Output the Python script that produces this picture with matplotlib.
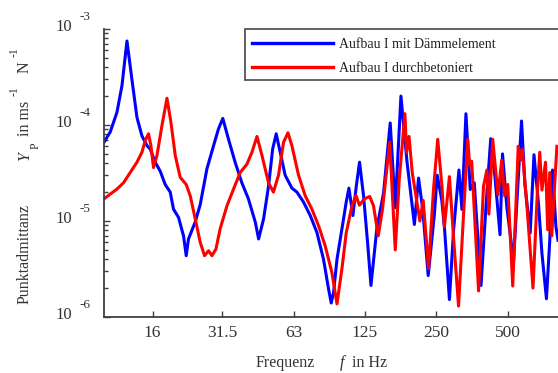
import matplotlib
matplotlib.use("Agg")
import matplotlib.pyplot as plt
import matplotlib.transforms as mtransforms
from matplotlib.patches import Rectangle
from matplotlib.ticker import FixedLocator, NullFormatter, NullLocator

plt.rcParams["font.family"] = ["Liberation Serif", "DejaVu Serif"]

# x ticks (terz/oktav band centres)
freq_ticks = [16, 31.5, 63, 125, 250, 500]
freq_labels = ["16", "31.5", "63", "125", "250", "500"]
decades = [-6, -5, -4, -3]

# Aufbau I mit Dämmelement
blue_f = [10.0, 10.63, 11.34, 11.9, 12.49, 13.1, 13.76, 14.44, 15.16, 15.65,
          16.42, 17.24, 18.09, 18.99, 19.6, 20.58, 21.6, 22.17, 22.67, 24.2,
          25.39, 27.1, 28.9, 30.3, 31.6, 33.4, 35.6, 38.0, 40.5, 43.3,
          44.7, 46.9, 49.2, 51.2, 53.0, 55.1, 57.8, 61.7, 64.8, 69.1,
          73.7, 78.6, 83.8, 88.0, 90.3, 92.4, 95.5, 100.2, 104.4, 107.2,
          111.4, 115.1, 118.8, 123.5, 128.4, 132.7, 140.6, 149.9, 159.9, 167.9,
          177.4, 188.0, 202.1, 210.4, 219.1, 231.0, 244.9, 252.1, 263.4, 270.6,
          283.7, 295.2, 311.1, 320.2, 332.9, 347.1, 360.8, 385.3, 406.4, 423.3,
          440.9, 463.1, 474.4, 495.2, 528, 545.6, 570.4, 589.4, 620.3, 643.5,
          672.3, 695, 726, 749.6, 770, 795.8, 812]
blue_y = [6.6e-5, 8.5e-5, 1.36e-4, 2.57e-4, 7.5e-4, 3.0e-4, 1.2e-4, 7.7e-5, 6.1e-5, 5.6e-5,
          4.1e-5, 3.3e-5, 2.4e-5, 2.0e-5, 1.33e-5, 1.09e-5, 7.0e-6, 4.35e-6, 6.5e-6, 9.8e-6,
          1.48e-5, 3.5e-5, 6.1e-5, 9.1e-5, 1.17e-4, 7.1e-5, 4.1e-5, 2.5e-5, 1.7e-5, 9.7e-6,
          6.5e-6, 1.05e-5, 2.3e-5, 5.6e-5, 8.1e-5, 5.2e-5, 3.0e-5, 2.2e-5, 2.0e-5, 1.57e-5,
          1.14e-5, 7.6e-6, 4.0e-6, 1.96e-6, 1.40e-6, 1.81e-6, 4.0e-6, 8.3e-6, 1.57e-5, 2.2e-5,
          1.14e-5, 2.3e-5, 4.1e-5, 1.83e-5, 6.0e-6, 2.13e-6, 8.5e-6, 1.96e-5, 1.05e-4, 1.38e-5,
          2.0e-4, 4.2e-5, 9.2e-6, 2.8e-5, 1.32e-5, 2.7e-6, 1.13e-5, 3.0e-5, 1.66e-5, 8.3e-6,
          1.52e-6, 7.9e-6, 3.4e-5, 1.32e-5, 1.31e-4, 2.13e-5, 2.5e-5, 2.13e-6, 1.74e-5, 7.2e-5,
          2.9e-5, 7.2e-6, 5.0e-5, 1.37e-5, 3.8e-6, 1.6e-5, 1.1e-4, 2.4e-5, 7.5e-6, 4.9e-5,
          1.5e-5, 4.6e-6, 1.55e-6, 6.2e-6, 3.4e-5, 8.7e-6, 6.3e-6]

# Aufbau I durchbetoniert
red_f = [10.0, 10.63, 11.34, 12.08, 12.89, 13.76, 14.44, 14.91, 15.39, 15.75,
         16.15, 16.7, 17.52, 18.4, 19.12, 19.94, 20.92, 22.17, 23.05, 24.2,
         25.39, 26.48, 27.52, 28.44, 29.57, 30.8, 32.9, 35.06, 37.4, 39.9,
         41.9, 44.0, 46.2, 49.2, 51.6, 54.2, 56.9, 59.4, 61.7, 65.8,
         70.2, 74.9, 79.9, 85.2, 90.9, 95.5, 100.2, 104.4, 110.4, 114.8,
         118.7, 124.3, 131.1, 136.0, 142.4, 148.4, 159.1, 167.9, 174.5, 184.4,
         187.3, 191.9, 197.9, 207.1, 213.1, 220.1, 231.7, 243.2, 253.3, 263.9,
         270.3, 283.7, 295.8, 309.9, 324.3, 338.7, 345.3, 352, 359, 376.2,
         394.7, 407.9, 415.8, 431.5, 454, 470.8, 484.7, 499, 523.8, 552.5,
         563.3, 574.3, 602.8, 637.4, 664, 680.3, 695, 719.6, 735, 749.6,
         764.3, 779, 803.5]
red_y = [1.7e-5, 1.91e-5, 2.15e-5, 2.5e-5, 3.2e-5, 4.1e-5, 5.2e-5, 6.9e-5, 8.1e-5, 6.1e-5,
         3.6e-5, 4.8e-5, 9.8e-5, 1.9e-4, 1.07e-4, 4.8e-5, 2.85e-5, 2.4e-5, 1.83e-5, 1.05e-5,
         6.0e-6, 4.35e-6, 4.9e-6, 4.35e-6, 5.1e-6, 8.3e-6, 1.44e-5, 2.15e-5, 3.2e-5, 3.9e-5,
         5.2e-5, 7.6e-5, 4.8e-5, 2.5e-5, 2.0e-5, 3.0e-5, 6.6e-5, 8.3e-5, 6.1e-5, 3.0e-5,
         1.83e-5, 1.33e-5, 8.9e-6, 5.5e-6, 2.9e-6, 1.37e-6, 3.2e-6, 7.5e-6, 1.44e-5, 1.84e-5,
         1.46e-5, 1.7e-5, 1.8e-5, 1.44e-5, 7.0e-6, 1.33e-5, 6.6e-5, 5.0e-6, 2.7e-5, 1.31e-4,
         5.2e-5, 7.6e-5, 3.2e-5, 1.57e-5, 1.0e-5, 1.64e-5, 3.2e-6, 2.15e-5, 7.1e-5, 2.3e-5,
         8.7e-6, 2.9e-5, 6.3e-6, 1.3e-6, 1.02e-5, 7.1e-5, 3.8e-5, 4.2e-5, 1.66e-5, 1.87e-6,
         2.3e-5, 3.4e-5, 1.18e-5, 7.1e-5, 1.87e-5, 4.3e-5, 1.82e-5, 2.4e-5, 2.1e-6, 6.0e-5,
         4.3e-5, 5.6e-5, 1.3e-5, 2.0e-6, 1.87e-5, 5.2e-5, 2.1e-5, 4.1e-5, 8.1e-6, 3.2e-5,
         7.0e-6, 1.66e-5, 6.0e-5]

W, H = 558, 373
AXIS_COL = "#404040"
TXT_COL = "#333333"


def px(x, y):
    """pixel position (from top-left) -> figure fraction"""
    return x / W, 1 - y / H


fig = plt.figure(figsize=(W / 100, H / 100), dpi=100)
ax = fig.add_axes([104 / W, 56 / H, 454 / W, 288 / H])

ax.plot(blue_f, blue_y, color="#0000ff", lw=2.2, label="Aufbau I mit Dämmelement")
ax.plot(red_f, red_y, color="#ff0000", lw=2.2, label="Aufbau I durchbetoniert")

ax.set_xscale("log")
ax.set_yscale("log")
ax.set_xlim(10, 812)
ax.set_ylim(1e-6, 1e-3)

for side in ("top", "right"):
    ax.spines[side].set_visible(False)
for side in ("left", "bottom"):
    ax.spines[side].set_color(AXIS_COL)
    ax.spines[side].set_linewidth(1.3)

ax.xaxis.set_major_locator(FixedLocator(freq_ticks))
ax.set_xticklabels(freq_labels)
ax.xaxis.set_minor_locator(NullLocator())
ax.xaxis.set_minor_formatter(NullFormatter())

ax.yaxis.set_major_locator(FixedLocator([10.0 ** e for e in decades]))
ax.yaxis.set_minor_locator(FixedLocator(
    [m * 10.0 ** e for e in decades[:-1] for m in range(2, 10)]))
ax.yaxis.set_major_formatter(NullFormatter())
ax.yaxis.set_minor_formatter(NullFormatter())

ax.tick_params(which="both", direction="in", color=AXIS_COL, width=1.0)
ax.tick_params(which="major", length=4)
ax.tick_params(which="minor", length=3)
ax.tick_params(axis="x", labelsize=12.5, labelcolor=TXT_COL, pad=6)

# decade labels 10^-n, written like the original (separate exponent)
ytrans = ax.get_yaxis_transform()
for e in decades:
    t1 = ytrans + mtransforms.ScaledTranslation(-0.32, 0.02, fig.dpi_scale_trans)
    t2 = ytrans + mtransforms.ScaledTranslation(-0.25, 0.12, fig.dpi_scale_trans)
    ax.text(0, 10.0 ** e, "10", transform=t1, ha="right", va="center",
            fontsize=12, color=TXT_COL)
    ax.text(0, 10.0 ** e, f"-{abs(e)}", transform=t2, ha="left", va="center",
            fontsize=9.5, color=TXT_COL)

# y label pieces (rotated)
ylab = [
    ("Punktadmittanz", 25, 254, 11.5, "normal"),
    ("Y", 25, 157, 11.5, "italic"),
    ("P", 36, 146, 8.5, "normal"),
    ("in ms", 25, 118, 11.5, "normal"),
    ("-1", 15, 91, 8.5, "normal"),
    ("N", 25, 67, 11.5, "normal"),
    ("-1", 15, 52, 8.5, "normal"),
]
for s, x, y, fs, st in ylab:
    fig.text(*px(x, y), s, rotation=90, ha="center", va="center",
             fontsize=fs, style=st, color=TXT_COL)

# x label pieces
fig.text(*px(285.5, 363), "Frequenz", ha="center", va="center",
         fontsize=11.5, color=TXT_COL)
fig.text(*px(342, 363), "f", ha="center", va="center",
         fontsize=11.5, style="italic", color=TXT_COL)
fig.text(*px(352, 363), "in Hz", ha="left", va="center",
         fontsize=11.5, color=TXT_COL)

# legend box runs off the right edge in the original
box = Rectangle(px(245, 80), (620 - 245) / W, 51 / H,
                transform=fig.transFigure, facecolor="white",
                edgecolor="#555555", lw=1.3, zorder=4, clip_on=False)
ax.add_artist(box)
leg = ax.legend(loc="upper left", bbox_to_anchor=px(252, 38),
                bbox_transform=fig.transFigure, frameon=False, fontsize=10,
                handlelength=5.8, handletextpad=0.45, labelspacing=0.78,
                borderpad=0, borderaxespad=0)
leg.set_zorder(5)
for t in leg.get_texts():
    t.set_color("#222222")
for ln in leg.get_lines():
    ln.set_linewidth(2.4)

fig.savefig("out.png", dpi=100, facecolor="white")
